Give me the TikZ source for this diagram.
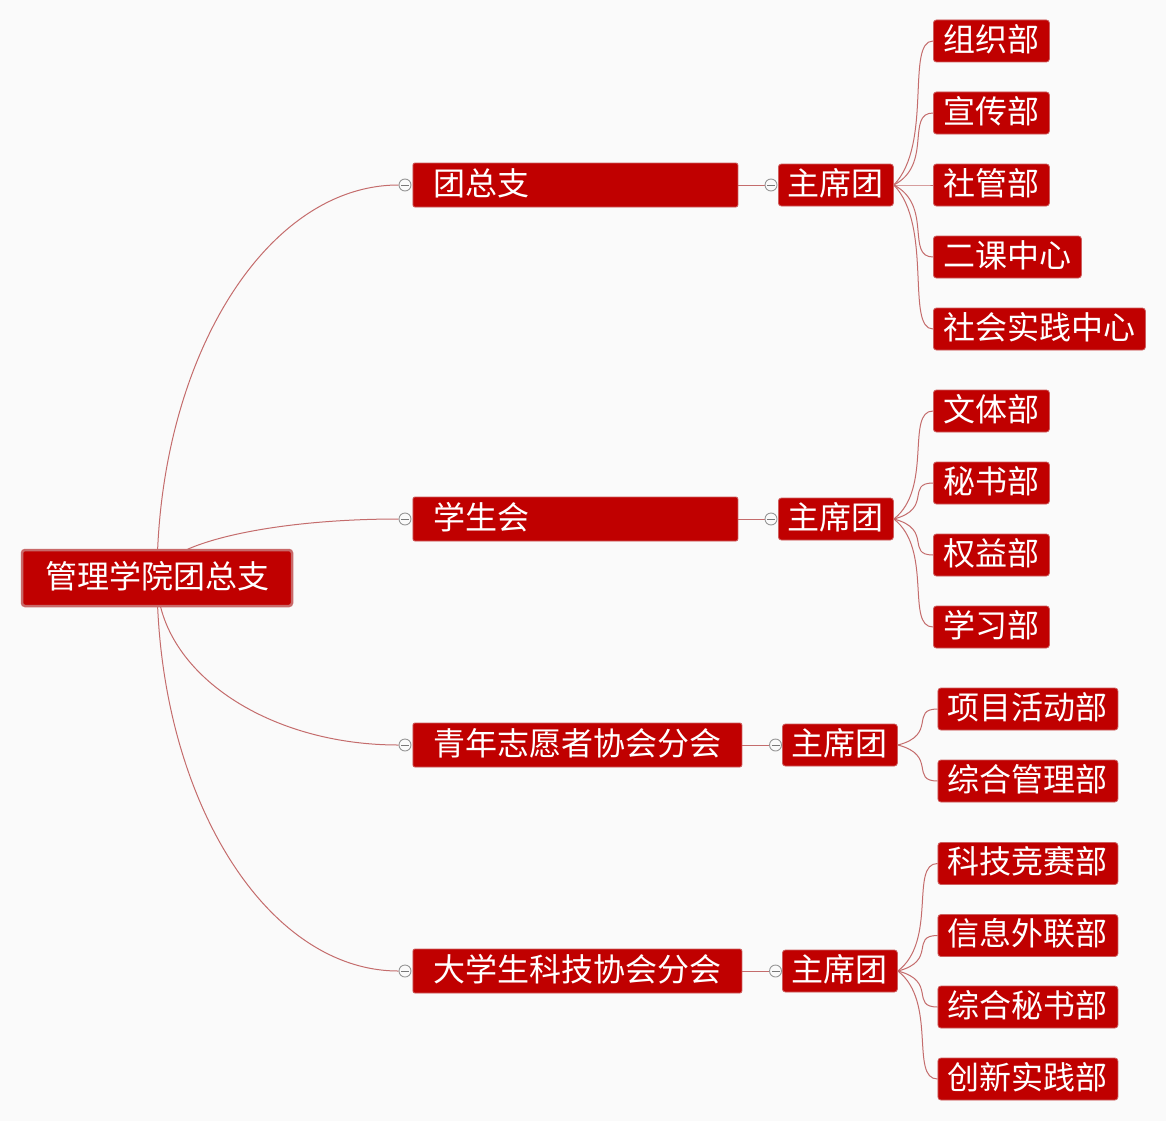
\documentclass[tikz,border=0pt]{standalone}
\usepackage{fontspec}
\newfontfamily\cjk{Noto Sans CJK SC}
\usetikzlibrary{calc}
\definecolor{boxred}{RGB}{192,0,0}
\definecolor{boxedge}{RGB}{205,95,95}
\definecolor{rootedge}{RGB}{200,105,105}
\definecolor{linecol}{RGB}{196,108,108}
\definecolor{knobgray}{RGB}{150,150,150}
\definecolor{bgcol}{RGB}{250,250,250}
\pgfdeclarelayer{bg}
\pgfdeclarelayer{edges}
\pgfsetlayers{bg,edges,main}
\newcommand\rootlink[2]{\draw[conn] let \p1=(#1), \p2=(#2) in (#1) .. controls (\x1,{(\y1)+0.5523*((\y2)-(\y1))}) and ({(\x2)-0.5523*((\x2)-(\x1))},\y2) .. (#2);}
\newcommand\leaflink[2]{\draw[conn] let \p1=(#1.east), \p2=(#2.west) in (#1.east) .. controls (\x2,{(\y1)+0.28*((\y2)-(\y1))}) and ({(\x1)+0.3*((\x2)-(\x1))},\y2) .. (#2.west);}
\tikzset{
  base/.style={fill=boxred, text=white, draw=boxedge, line width=0.8pt,
    font=\cjk\fontsize{32}{38}\selectfont, inner sep=0pt,
    text height=25.5pt, text depth=5pt, rounded corners=3pt},
  rootbox/.style={base, draw=rootedge, line width=2.5pt, minimum width=270pt, minimum height=56pt},
  lvone/.style={base, anchor=west, inner xsep=20.5pt, inner ysep=0pt, minimum height=44pt, align=left, rounded corners=2pt},
  chair/.style={base, anchor=west, minimum width=115pt, minimum height=42pt},
  leaf/.style={base, anchor=west, minimum height=42pt},
  knob/.style={circle, draw=knobgray, fill=bgcol, line width=0.9pt, minimum size=12pt, inner sep=0pt,
    path picture={\draw[knobgray!80!black, line width=0.9pt] ([xshift=-4pt]path picture bounding box.center) -- ([xshift=4pt]path picture bounding box.center);}},
  conn/.style={draw=linecol, line width=1pt}
}
\begin{document}
\begin{tikzpicture}[x=1pt,y=-1pt]
\begin{pgfonlayer}{bg}
\fill[bgcol] (0,0) rectangle (1166,1121);
\end{pgfonlayer}
\useasboundingbox (0,0) rectangle (1166,1121);

% root
\node[rootbox] (root) at (157,578) {管理学院团总支};

% level one
\node[lvone, text width=284pt] (a) at (412.5,185) {团总支};
\node[lvone, text width=284pt] (b) at (412.5,519) {学生会};
\node[lvone, text width=288pt] (c) at (412.5,745) {青年志愿者协会分会};
\node[lvone, text width=288pt] (d) at (412.5,971) {大学生科技协会分会};

\node[knob] (ka) at (405,185) {};
\node[knob] (kb) at (405,519) {};
\node[knob] (kc) at (405,745) {};
\node[knob] (kd) at (405,971) {};

% chair groups
\node[chair] (ca) at (778,185) {主席团};
\node[chair] (cb) at (778,519) {主席团};
\node[chair] (cc) at (782,745) {主席团};
\node[chair] (cd) at (782,971) {主席团};

\node[knob] (qa) at (771,185) {};
\node[knob] (qb) at (771,519) {};
\node[knob] (qc) at (775.5,745) {};
\node[knob] (qd) at (775.5,971) {};

% leaves
\node[leaf, minimum width=116pt] (a1) at (933,41) {组织部};
\node[leaf, minimum width=116pt] (a2) at (933,113) {宣传部};
\node[leaf, minimum width=116pt] (a3) at (933,185) {社管部};
\node[leaf, minimum width=148pt] (a4) at (933,257) {二课中心};
\node[leaf, minimum width=212pt] (a5) at (933,329) {社会实践中心};

\node[leaf, minimum width=116pt] (b1) at (933,411) {文体部};
\node[leaf, minimum width=116pt] (b2) at (933,483) {秘书部};
\node[leaf, minimum width=116pt] (b3) at (933,555) {权益部};
\node[leaf, minimum width=116pt] (b4) at (933,627) {学习部};

\node[leaf, minimum width=180pt] (c1) at (937.5,709) {项目活动部};
\node[leaf, minimum width=180pt] (c2) at (937.5,781) {综合管理部};

\node[leaf, minimum width=180pt] (d1) at (937.5,863.5) {科技竞赛部};
\node[leaf, minimum width=180pt] (d2) at (937.5,935.5) {信息外联部};
\node[leaf, minimum width=180pt] (d3) at (937.5,1007) {综合秘书部};
\node[leaf, minimum width=180pt] (d4) at (937.5,1079) {创新实践部};

\begin{pgfonlayer}{edges}
\rootlink{root.center}{ka.west}
\rootlink{root.center}{kb.west}
\rootlink{root.center}{kc.west}
\rootlink{root.center}{kd.west}

\draw[conn] (a.east) -- (qa.west);
\draw[conn] (b.east) -- (qb.west);
\draw[conn] (c.east) -- (qc.west);
\draw[conn] (d.east) -- (qd.west);

\leaflink{ca}{a1}
\leaflink{ca}{a2}
\leaflink{ca}{a3}
\leaflink{ca}{a4}
\leaflink{ca}{a5}
\leaflink{cb}{b1}
\leaflink{cb}{b2}
\leaflink{cb}{b3}
\leaflink{cb}{b4}
\leaflink{cc}{c1}
\leaflink{cc}{c2}
\leaflink{cd}{d1}
\leaflink{cd}{d2}
\leaflink{cd}{d3}
\leaflink{cd}{d4}
\end{pgfonlayer}
\end{tikzpicture}
\end{document}
